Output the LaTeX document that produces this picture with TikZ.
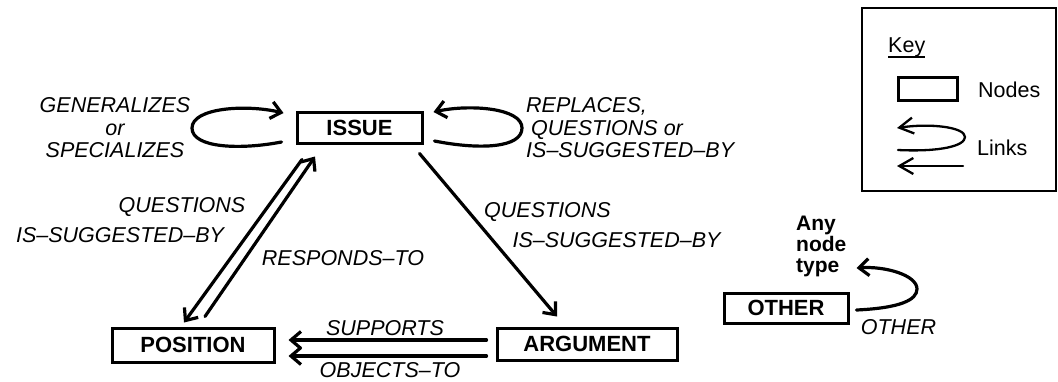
\documentclass[tikz,border=0pt]{standalone}
\usepackage{fontspec}
\setmainfont{Liberation Sans}
\usetikzlibrary{arrows.meta,calc}
\begin{document}
\begin{tikzpicture}[x=1pt,y=-1pt,
  ibisnode/.style={draw, line width=3pt, inner sep=0pt,
    font=\bfseries\fontsize{22}{24}\selectfont},
  link/.style={line width=3.2pt, line cap=round,
    -{Straight Barb[length=10pt,width=17pt]}},
  lbl/.style={font=\itshape\fontsize{21.5}{22.5}\selectfont, inner sep=0pt},
  anytype/.style={font=\bfseries\fontsize{21}{21}\selectfont, inner sep=0pt, anchor=base west},
  keytext/.style={font=\fontsize{21.5}{24}\selectfont, inner sep=0pt},
  keyline/.style={line width=2.3pt, line cap=round,
    -{Straight Barb[length=14pt,width=16pt]}}]

\useasboundingbox (0,0) rectangle (1058,381);

% node types
\node[ibisnode, minimum width=125pt, minimum height=31pt] (issue) at (359.5,127.5) {ISSUE};
\node[ibisnode, minimum width=162pt, minimum height=34pt] (position) at (193,345) {POSITION};
\node[ibisnode, minimum width=180pt, minimum height=32pt] (argument) at (587,344) {ARGUMENT};
\node[ibisnode, minimum width=124pt, minimum height=30pt] (other) at (786,308) {OTHER};

% issue self-links
\draw[link] ($(issue.west)+(-14,14.5)$) .. controls (240,150) and (192,148) .. (192,128)
  .. controls (192,108) and (245,104) .. ($(issue.west)+(-12,-14.5)$);
\draw[link] ($(issue.east)+(11,13.5)$) .. controls (480,150) and (522,148) .. (522,128)
  .. controls (522,108) and (470,104) .. ($(issue.east)+(10,-15.5)$);

% issue <-> position
\draw[link] ($(issue.south)+(-57.5,15)$) -- ($(position.north)+(-9,-4)$);
\draw[link] ($(position.north)+(12,-10)$) -- ($(issue.south)+(-44.5,12)$);

% issue -> argument
\draw[link] ($(issue.south east)+(-4,9)$) -- ($(argument.north)+(-30,-10)$);

% argument -> position
\draw[link] ($(argument.west)+(-9,-4)$) -- ($(position.east)+(13,-5)$);
\draw[link] ($(argument.west)+(-9,12)$) -- ($(position.east)+(13,11)$);

% other -> any node type
\draw[link] ($(other.east)+(7,2)$) .. controls (900,308) and (917,300) .. (917,289)
  .. controls (917,275) and (885,266) .. ($(other.east)+(7,-40)$);

% link labels
\node[lbl, align=center] (genspec) at (115,128) {GENERALIZES\\or\\SPECIALIZES};
\node[lbl, align=left, anchor=west] (repl) at (526,128) {REPLACES,\\\hspace{5pt}QUESTIONS or\\IS--SUGGESTED--BY};
\node[lbl] (q1) at (182,207) {QUESTIONS};
\node[lbl] (s1) at (120,235) {IS--SUGGESTED--BY};
\node[lbl] (resp) at (343,258) {RESPONDS--TO};
\node[lbl] (q2) at (547.5,212) {QUESTIONS};
\node[lbl] (s2) at (616.5,240) {IS--SUGGESTED--BY};
\node[lbl] (supp) at (385,328) {SUPPORTS};
\node[lbl] (obj) at (390,370) {OBJECTS--TO};
\node[lbl] (otherlbl) at (898.5,327) {OTHER};
\node[anytype] (any1) at (796,230) {Any};
\node[anytype] (any2) at (796,251) {node};
\node[anytype] (any3) at (796,272) {type};

% key
\draw[line width=1.5pt] (862,8) rectangle (1056,191);
\node[keytext, anchor=base west] (key) at (888,52) {Key};
\draw[line width=1.5pt] ($(key.base west)+(0,5)$) -- ($(key.base east)+(0,5)$);
\node[draw, line width=3pt, minimum width=59pt, minimum height=23pt, inner sep=0pt] (keynode) at (927.5,88.5) {};
\node[keytext, anchor=west] (nodeslbl) at (978,90) {Nodes};
\node[keytext, anchor=west] (linkslbl) at (977,148) {Links};
\draw[keyline] ($(linkslbl.west)+(-79,2)$) .. controls (940,152) and (965,146) .. (965,137)
  .. controls (965,127) and (930,123) .. ($(linkslbl.west)+(-80,-20)$);
\draw[keyline] ($(linkslbl.west)+(-14,18)$) -- ($(linkslbl.west)+(-80,18)$);
\end{tikzpicture}
\end{document}
